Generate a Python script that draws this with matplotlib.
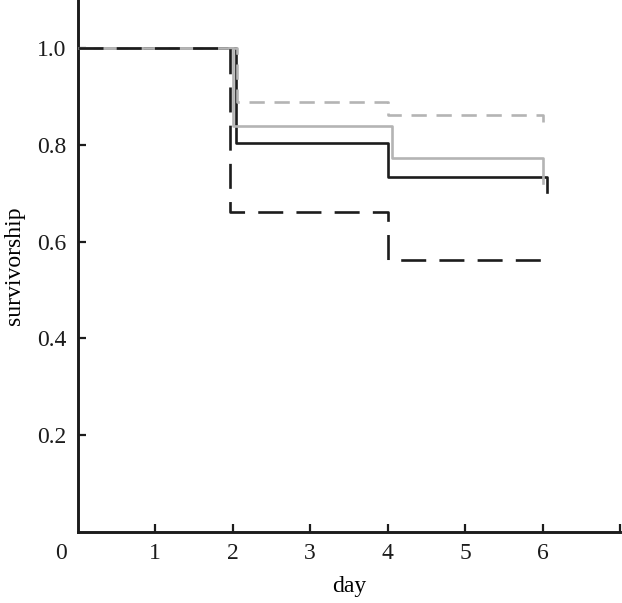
import matplotlib
matplotlib.use("Agg")
import matplotlib.pyplot as plt

# survival curves (Kaplan-Meier style steps)
days_black_solid = [0, 2.04, 4.0, 6.06]
surv_black_solid = [1.0, 0.805, 0.733, 0.703]

days_grey_dashed = [0, 2.06, 4.0, 6.0]
surv_grey_dashed = [1.0, 0.889, 0.863, 0.848]

days_grey_solid = [0, 2.01, 4.06, 6.0]
surv_grey_solid = [1.0, 0.840, 0.774, 0.722]

days_black_dashed = [0, 1.96, 4.0, 6.0]
surv_black_dashed = [1.0, 0.662, 0.563, 0.550]

x_ticks = [1, 2, 3, 4, 5, 6, 7]
x_labels = ['1', '2', '3', '4', '5', '6', '']
y_ticks = [0.2, 0.4, 0.6, 0.8, 1.0]
y_labels = ['0.2', '0.4', '0.6', '0.8', '1.0']

plt.rcParams['font.family'] = ['Liberation Serif', 'DejaVu Serif']
plt.rcParams['lines.scale_dashes'] = False

black = '#1c1c1c'
grey = '#b4b4b4'

fig = plt.figure(figsize=(6.22, 6.03), dpi=100)
ax = fig.add_axes([0.125, 0.118, 0.872, 0.882])

ax.step(days_black_solid, surv_black_solid, where='post', color=black, lw=1.9, zorder=1)
ax.step(days_grey_dashed, surv_grey_dashed, where='post', color=grey, lw=1.9,
        dashes=(11, 7), zorder=2)
ax.step(days_grey_solid, surv_grey_solid, where='post', color=grey, lw=1.9, zorder=3)
ax.step(days_black_dashed, surv_black_dashed, where='post', color=black, lw=1.9,
        dashes=(18, 9.5), zorder=4)

ax.set_xlim(0, 7)
ax.set_ylim(0, 1.1)
ax.set_xticks(x_ticks)
ax.set_xticklabels(x_labels)
ax.set_yticks(y_ticks)
ax.set_yticklabels(y_labels)

for side in ['top', 'right']:
    ax.spines[side].set_visible(False)
for side in ['left', 'bottom']:
    ax.spines[side].set_linewidth(2.1)
    ax.spines[side].set_color(black)

ax.tick_params(direction='in', length=6, width=1.6, colors=black,
               labelsize=17, pad=8)

ax.annotate('0', xy=(0, 0), xycoords=('data', 'axes fraction'),
            xytext=(-12, -8), textcoords='offset points',
            ha='center', va='top', fontsize=17, color=black)

ax.set_xlabel('day', fontsize=17, labelpad=9)
ax.set_ylabel('survivorship', fontsize=17, labelpad=9)

fig.savefig('out.png', dpi=100)
